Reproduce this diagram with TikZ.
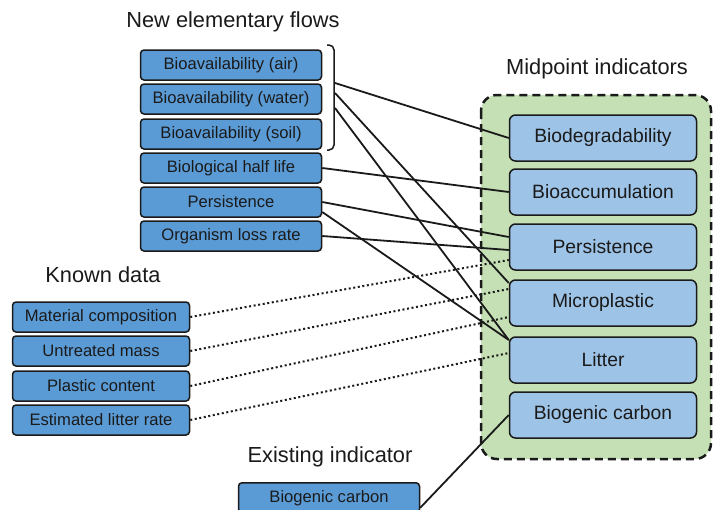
\documentclass[tikz,border=0pt]{standalone}
\usepackage{fontspec}
\setmainfont{Liberation Sans}
\usetikzlibrary{calc}
\definecolor{darkblue}{HTML}{5B9BD5}
\definecolor{lightblue}{HTML}{9DC3E6}
\definecolor{greenbg}{HTML}{C5E0B4}
\definecolor{ink}{HTML}{1A1A1A}
\tikzset{
  lbox/.style={draw=ink, line width=1.5pt, fill=darkblue, rounded corners=3.5pt,
    minimum width=181pt, minimum height=30pt, inner sep=0pt, text=ink,
    font=\fontsize{16.6}{18}\selectfont},
  kbox/.style={lbox, minimum width=177pt},
  rbox/.style={draw=ink, line width=1.5pt, fill=lightblue, rounded corners=6pt,
    minimum width=187pt, minimum height=46pt, inner sep=0pt, text=ink,
    font=\fontsize{19.3}{21}\selectfont},
  heading/.style={text=ink, font=\fontsize{21.8}{23}\selectfont, inner sep=0pt},
  conn/.style={draw=ink, line width=1.8pt},
  dconn/.style={draw=ink, line width=2pt, dash pattern=on 2pt off 2.6pt},
}
\begin{document}
\begin{tikzpicture}[x=1pt, y=-1pt]
\useasboundingbox (0,0) rectangle (714,509);
% green region
\draw[fill=greenbg, draw=ink, line width=2.5pt, dash pattern=on 8pt off 5pt, rounded corners=16pt]
  (481,95) rectangle (711,459);
% headings
\node[heading] (hnew) at (233,22) {New elementary flows};
\node[heading] (hmid) at (597,69) {Midpoint indicators};
\node[heading] (hknown) at (103,275) {Known data};
\node[heading] (hexist) at (330,457) {Existing indicator};
% top-left boxes
\node[lbox] (t1) at (231,65) {Bioavailability (air)};
\node[lbox] (t2) at (231,99) {Bioavailability (water)};
\node[lbox] (t3) at (231,134) {Bioavailability (soil)};
\node[lbox] (t4) at (231,168) {Biological half life};
\node[lbox] (t5) at (231,202) {Persistence};
\node[lbox] (t6) at (231,236) {Organism loss rate};
% bracket
\draw[draw=ink, line width=1.5pt, rounded corners=5pt] (327,45) -- (334,45) -- (334,150) -- (327,150);
\coordinate (b1) at (335,83);
\coordinate (b2) at (335,93);
\coordinate (b3) at (335,108);
% known data
\node[kbox] (k1) at (101,317) {Material composition};
\node[kbox] (k2) at (101,351) {Untreated mass};
\node[kbox] (k3) at (101,386) {Plastic content};
\node[kbox] (k4) at (101,420) {Estimated litter rate};
% existing
\node[lbox, anchor=north] (e1) at (329,482) {Biogenic carbon};
% right boxes
\node[rbox] (r1) at (603,138) {Biodegradability};
\node[rbox] (r2) at (603,192) {Bioaccumulation};
\node[rbox] (r3) at (603,247) {Persistence};
\node[rbox] (r4) at (603,303) {Microplastic};
\node[rbox] (r5) at (603,360) {Litter};
\node[rbox] (r6) at (603,415) {Biogenic carbon};
% solid connectors
\draw[conn] (b1) -- (r1.west);
\draw[conn] (b2) -- ([yshift=20pt]r4.west);
\draw[conn] (b3) -- ([yshift=20pt]r5.west);
\draw[conn] (t4.east) -- (r2.west);
\draw[conn] (t5.east) -- ([yshift=10pt]r3.west);
\draw[conn] ([yshift=-10pt]t5.east) -- ([yshift=20pt]r5.west);
\draw[conn] (t6.east) -- ([yshift=-3pt]r3.west);
\draw[conn] ([yshift=-10pt]e1.east) -- (r6.west);
% dotted connectors
\draw[dconn] (k1.east) -- ([yshift=-13pt]r3.west);
\draw[dconn] (k2.east) -- ([yshift=14pt]r4.west);
\draw[dconn] (k3.east) -- ([yshift=-14pt]r4.west);
\draw[dconn] (k4.east) -- ([yshift=7pt]r5.west);
\end{tikzpicture}
\end{document}
